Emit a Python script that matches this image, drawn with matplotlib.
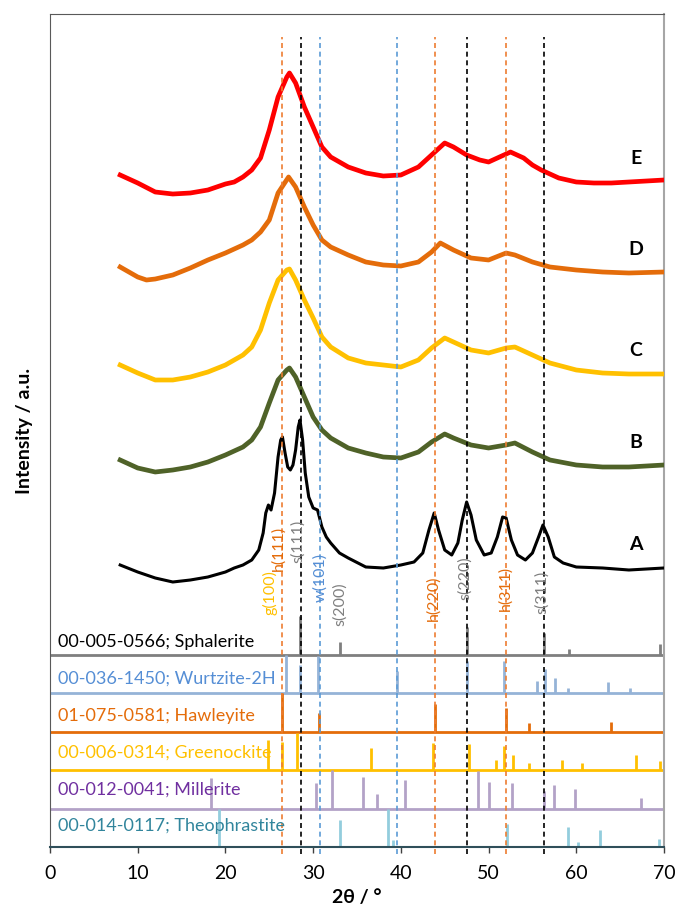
import matplotlib
matplotlib.use('Agg')
import matplotlib.pyplot as plt

plt.rcParams['font.family'] = ['Lato', 'DejaVu Sans']

# XRD patterns, intensity in a.u. (offsets already included)
tt_e = [8, 10, 12, 14, 16, 18, 20, 21, 22, 23, 24, 25, 26, 27, 27.3, 28, 29, 30, 31, 32,
        34, 36, 38, 40, 42, 43.5, 45, 46, 47.5, 49, 50, 51, 52.5, 54, 55, 56, 58, 60, 62, 64,
        66, 70]
int_e = [672, 664, 655, 653, 654, 657, 663, 665, 670, 677, 689, 717, 750, 770, 774, 764, 740, 720, 700, 690,
         680, 674, 671, 672, 680, 692, 704, 700, 692, 687, 685, 689, 695, 689, 682, 677, 669, 665, 664, 664,
         665, 667]

tt_d = [8, 10, 11, 12, 14, 16, 18, 20, 22, 23, 24, 25, 26, 27.2, 28, 29, 30, 31, 32, 34,
        36, 38, 40, 42, 43.5, 44.5, 46, 48, 50, 52, 53, 55, 57, 60, 63, 66, 70]
int_d = [580, 570, 567, 568, 572, 579, 587, 594, 602, 607, 615, 627, 654, 670, 660, 640, 622, 607, 600, 592,
         585, 582, 581, 585, 595, 604, 597, 589, 587, 594, 592, 585, 580, 577, 575, 574, 575]

tt_bc = [8, 10, 12, 14, 16, 18, 20, 22, 23, 24, 25, 26, 27, 27.3, 28, 29, 30, 31, 32, 34,
         36, 38, 40, 42, 43.5, 45, 46, 48, 50, 52, 53, 55, 57, 60, 63, 66, 70]
int_c = [482, 474, 467, 467, 470, 475, 482, 492, 500, 517, 544, 567, 577, 578, 567, 547, 529, 510, 500, 489,
         484, 482, 480, 487, 499, 509, 505, 497, 494, 499, 500, 492, 484, 477, 474, 473, 473]
int_b = [387, 379, 375, 377, 380, 385, 392, 400, 407, 420, 444, 467, 477, 479, 470, 450, 430, 417, 409, 399,
         394, 390, 389, 395, 405, 413, 409, 402, 399, 402, 404, 395, 387, 382, 380, 380, 382]

tt_a = [8, 10, 12, 14, 16, 18, 20, 21, 22, 23, 23.8, 24.3, 24.6, 24.9, 25.2, 25.6, 26, 26.3, 26.5, 26.8,
        27.1, 27.4, 27.7, 28, 28.3, 28.5, 28.8, 29.1, 29.5, 30, 30.5, 31, 31.5, 32, 33, 34, 36, 38, 40, 41.5,
        42.5, 43.2, 43.8, 44.3, 45, 45.8, 46.5, 47, 47.5, 48, 48.6, 49.5, 50.3, 51, 51.6, 52, 52.6, 53.3, 54.2, 55,
        55.7, 56.2, 56.8, 57.5, 58.5, 60, 63, 66, 70]
int_a = [282, 275, 269, 265, 267, 270, 275, 279, 282, 287, 297, 314, 334, 342, 337, 354, 390, 407, 410, 394,
         380, 377, 382, 397, 420, 427, 407, 374, 350, 339, 337, 320, 310, 304, 294, 289, 280, 279, 282, 285,
         294, 317, 334, 317, 297, 292, 304, 327, 345, 332, 307, 292, 294, 310, 330, 329, 307, 292, 287, 294,
         310, 322, 310, 290, 284, 280, 279, 277, 279]

sample_names = ['A', 'B', 'C', 'D', 'E']

# reference patterns: 2theta and relative intensity (%)
sph_pos = [28.5, 33.1, 47.5, 56.3, 59.2, 69.6]
sph_int = [100, 33, 72, 57, 15, 26]
wur_pos = [26.9, 28.5, 30.5, 39.6, 47.5, 51.8, 55.5, 56.4, 57.6, 59.0, 63.6, 66.1]
wur_int = [100, 74, 96, 58, 83, 83, 32, 63, 39, 13, 28, 13]
haw_pos = [26.5, 30.7, 43.9, 52.0, 54.6, 64.0]
haw_int = [100, 48, 71, 61, 23, 25]
gre_pos = [24.8, 26.5, 28.2, 36.6, 43.7, 47.8, 50.9, 51.8, 52.8, 54.6, 58.4, 60.7, 66.8, 69.5]
gre_int = [79, 72, 95, 56, 69, 68, 27, 63, 39, 18, 25, 18, 39, 23]
mil_pos = [18.4, 30.3, 32.2, 35.7, 37.3, 40.5, 48.8, 50.1, 52.7, 56.3, 57.5, 59.8, 67.4]
mil_int = [80, 65, 100, 83, 38, 75, 97, 69, 65, 45, 61, 50, 28]
the_pos = [19.3, 33.1, 38.5, 39.1, 52.1, 59.1, 60.2, 62.7, 69.4]
the_int = [100, 70, 100, 17, 61, 51, 12, 43, 22]

ref_names = ['00-005-0566; Sphalerite', '00-036-1450; Wurtzite-2H', '01-075-0581; Hawleyite',
             '00-006-0314; Greenockite', '00-012-0041; Millerite', '00-014-0117; Theophrastite']

# marker lines and peak labels
orange_lines = [26.5, 43.9, 52.0]
black_lines = [28.6, 47.5, 56.3]
blue_lines = [30.8, 39.6]
hkl_labels = ['g(100)', 'h(111)', 's(111)', 'w(101)', 's(200)', 'h(220)', 's(220)', 'h(311)', 's(311)']
hkl_pos = [25.1, 26.0, 28.3, 30.8, 33.1, 43.7, 47.3, 51.9, 56.1]

# ---- styles
curves = [(tt_a, int_a, '#000000', 2.2), (tt_bc, int_b, '#4F6228', 3.4),
          (tt_bc, int_c, '#FFC000', 3.4), (tt_d, int_d, '#E46C0A', 3.4),
          (tt_e, int_e, '#FF0000', 3.4)]
letter_y = [302, 405, 496, 598, 689]
refs = [(sph_pos, sph_int, '#7F7F7F', '#000000'),
        (wur_pos, wur_int, '#95B3D7', '#558ED5'),
        (haw_pos, haw_int, '#E46C0A', '#E46C0A'),
        (gre_pos, gre_int, '#FFC000', '#FFC000'),
        (mil_pos, mil_int, '#B3A2C7', '#7030A0'),
        (the_pos, the_int, '#93CDDD', '#31859C')]
band_h = 38.5
name_dy = [12, 14, 16, 17, 19, 21]
hkl_y = [254, 299, 306, 269, 243, 249, 269, 259, 255]
hkl_col = ['#FFC000', '#E46C0A', '#7F7F7F', '#558ED5', '#7F7F7F',
           '#E46C0A', '#7F7F7F', '#E46C0A', '#7F7F7F']

fig = plt.figure(figsize=(6.75, 9.16), dpi=100)
ax = fig.add_axes([50 / 675, 69 / 916, 614 / 675, 833 / 916])

for tt, y, col, lw in curves:
    ax.plot(tt, y, color=col, lw=lw, solid_joinstyle='round', zorder=3)
for name, yy in zip(sample_names, letter_y):
    ax.text(66.8, yy, name, fontsize=14, fontweight='bold', ha='center', va='center', zorder=6)

for i, (pos, rel, lcol, tcol) in enumerate(refs):
    base = (5 - i) * band_h
    ax.hlines(base, 0, 70, color=lcol, lw=2, zorder=2)
    ax.vlines(pos, base, [base + r / 100 * band_h for r in rel], color=lcol, lw=2, zorder=2)
    ax.text(0.9, base + name_dy[i], ref_names[i], color=tcol, fontsize=13,
            ha='left', va='center', zorder=6)

for xs, col in [(orange_lines, '#ED7D31'), (black_lines, '#000000'), (blue_lines, '#5B9BD5')]:
    for x in xs:
        ax.plot([x, x], [-7, 810], color=col, lw=1.2, ls=(0, (3, 2.2)), zorder=5, clip_on=False)

for lab, x, yy, col in zip(hkl_labels, hkl_pos, hkl_y, hkl_col):
    ax.text(x, yy, lab, color=col, fontsize=11.5, rotation=90, ha='center', va='center', zorder=6)

ax.set_xlim(0, 70)
ax.set_ylim(0, 833)
ax.set_xticks(range(0, 71, 10))
ax.set_yticks([])
ax.tick_params(axis='x', direction='out', length=4, width=1, pad=9, labelsize=14, color='#404040')
ax.spines['top'].set_color('#595959')
ax.spines['left'].set_color('#595959')
ax.spines['top'].set_linewidth(0.8)
ax.spines['left'].set_linewidth(0.8)
ax.spines['right'].set_color('#A6A6A6')
ax.spines['right'].set_linewidth(1.5)
ax.spines['bottom'].set_color('#2F4F5A')
ax.spines['bottom'].set_linewidth(1.5)
ax.spines['bottom'].set_zorder(4)

ax.set_xlabel('2θ / °', fontsize=14, fontweight='bold')
ax.xaxis.set_label_coords(0.5, -42 / 833)
ax.set_ylabel('Intensity / a.u.', fontsize=14, fontweight='bold')
ax.yaxis.set_label_coords(-17 / 614, 0.5)

fig.savefig('out.png', dpi=100)
